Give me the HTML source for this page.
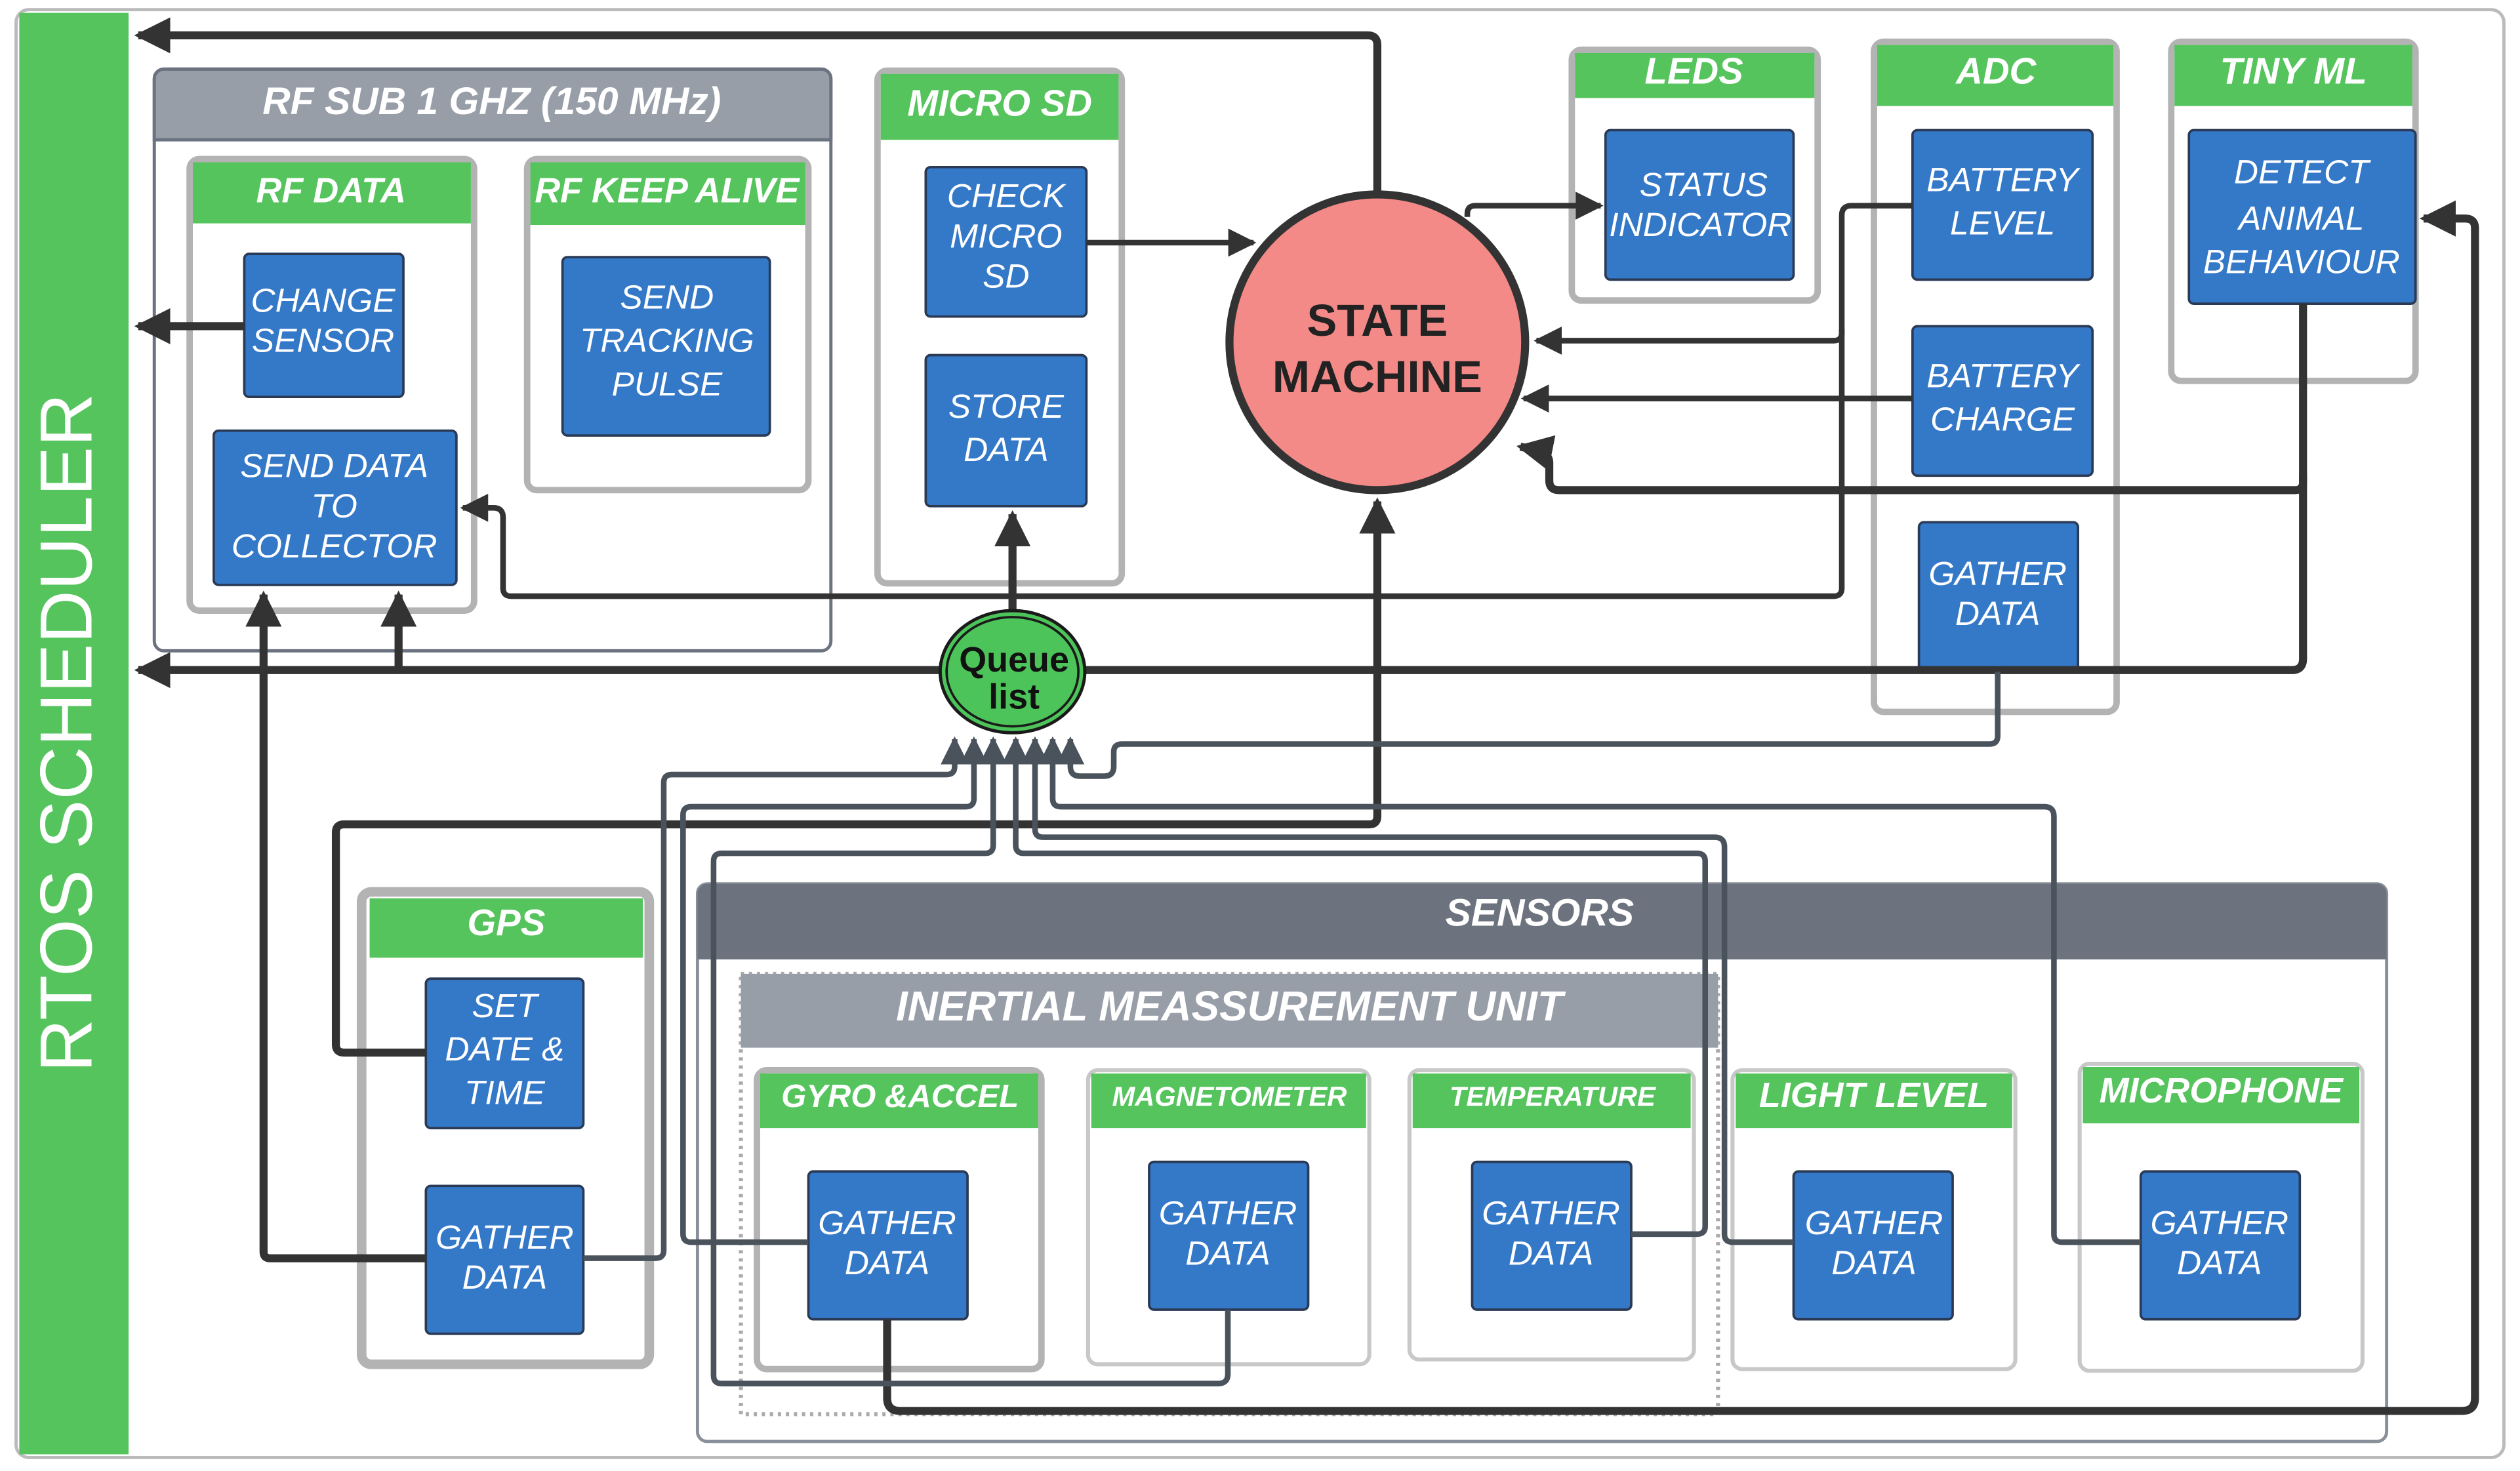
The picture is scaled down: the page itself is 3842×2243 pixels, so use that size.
<!DOCTYPE html>
<html><head><meta charset="utf-8"><style>
html,body{margin:0;padding:0;background:#fff;width:3842px;height:2243px;overflow:hidden}
svg{display:block}
text{font-family:"Liberation Sans",Arial,sans-serif}
.h{fill:#fff;font-weight:bold;font-style:italic;text-anchor:middle}
.b{fill:#fff;font-style:italic;text-anchor:middle;font-size:21px}
.blue{fill:#3478c8;stroke:#2a3a55;stroke-width:1.5}
.grp{fill:#fff;stroke:#b3b3b3;stroke-width:4}
.gh{fill:#55c45d}
.k{fill:none;stroke:#333;stroke-width:5;stroke-linejoin:round}
.k3{fill:none;stroke:#333;stroke-width:3.5;stroke-linejoin:round}
.g{fill:none;stroke:#4a525c;stroke-width:3.5;stroke-linejoin:round}
</style></head><body>
<svg width="3842" height="2243" viewBox="0 0 1568 915.4" preserveAspectRatio="none">
<defs>
<marker id="a" markerWidth="4.5" markerHeight="4.5" refX="4" refY="2.25" orient="auto" markerUnits="strokeWidth"><path d="M0,0 L4.5,2.25 L0,4.5 z" fill="#333"/></marker>
<marker id="a3" markerWidth="5" markerHeight="5" refX="4.5" refY="2.5" orient="auto" markerUnits="strokeWidth"><path d="M0,0 L5,2.5 L0,5 z" fill="#333"/></marker>
<marker id="a2" markerWidth="5" markerHeight="5" refX="4.5" refY="2.5" orient="auto" markerUnits="strokeWidth"><path d="M0,0 L5,2.5 L0,5 z" fill="#4a525c"/></marker>
</defs>
<rect x="10" y="6" width="1548" height="901" rx="8" fill="#fff" stroke="#bbb" stroke-width="2"/>
<rect x="12" y="8" width="68" height="897" fill="#55c45d"/>
<text transform="translate(57,456) rotate(-90)" text-anchor="middle" fill="#fff" font-size="46">RTOS SCHEDULER</text>

<!-- RF SUB group -->
<rect x="96" y="43" width="421" height="362" rx="6" fill="#fff" stroke="#6b7280" stroke-width="2"/>
<path d="M96,87 V49 a6,6 0 0 1 6,-6 H511 a6,6 0 0 1 6,6 V87 z" fill="#989ea8" stroke="#6b7280" stroke-width="2"/>
<text x="306" y="71" class="h" font-size="24">RF SUB 1 GHZ (150 MHz)</text>
<rect x="118" y="99" width="177" height="281" rx="6" class="grp"/>
<rect x="120" y="101" width="173" height="38" class="gh"/>
<text x="206" y="126" class="h" font-size="22">RF DATA</text>
<rect x="328" y="99" width="175" height="206" rx="6" class="grp"/>
<rect x="330" y="101" width="171" height="39" class="gh"/>
<text x="415" y="126" class="h" font-size="22">RF KEEP ALIVE</text>
<rect x="152" y="158" width="99" height="89" rx="3" class="blue"/>
<text x="201" y="194" class="b" font-size="20">CHANGE</text><text x="201" y="219" class="b" font-size="20">SENSOR</text>
<rect x="133" y="268" width="151" height="96" rx="3" class="blue"/>
<text x="208" y="297" class="b" font-size="20">SEND DATA</text><text x="208" y="322" class="b" font-size="20">TO</text><text x="208" y="347" class="b" font-size="20">COLLECTOR</text>
<rect x="350" y="160" width="129" height="111" rx="3" class="blue"/>
<text x="415" y="192" class="b" font-size="22">SEND</text><text x="415" y="219" class="b" font-size="22">TRACKING</text><text x="415" y="246" class="b" font-size="22">PULSE</text>

<!-- MICRO SD -->
<rect x="546" y="44" width="152" height="319" rx="6" class="grp"/>
<rect x="548" y="46" width="148" height="41" class="gh"/>
<text x="622" y="72" class="h" font-size="23">MICRO SD</text>
<rect x="576" y="104" width="100" height="93" rx="3" class="blue"/>
<text x="626" y="129" class="b" font-size="20">CHECK</text><text x="626" y="154" class="b" font-size="20">MICRO</text><text x="626" y="179" class="b" font-size="20">SD</text>
<rect x="576" y="221" width="100" height="94" rx="3" class="blue"/>
<text x="626" y="260" class="b" font-size="21">STORE</text><text x="626" y="287" class="b" font-size="21">DATA</text>

<!-- LEDS -->
<rect x="978" y="31" width="153" height="156" rx="6" class="grp"/>
<rect x="980" y="33" width="149" height="28" class="gh"/>
<text x="1054" y="52" class="h" font-size="23">LEDS</text>
<rect x="999" y="81" width="117" height="93" rx="3" class="blue"/>
<text x="1060" y="122" class="b" font-size="21">STATUS</text><text x="1058" y="147" class="b" font-size="17">INDICATOR</text>

<!-- ADC -->
<rect x="1166" y="26" width="151" height="417" rx="6" class="grp"/>
<rect x="1168" y="28" width="147" height="38" class="gh"/>
<text x="1242" y="52" class="h" font-size="23">ADC</text>
<rect x="1190" y="81" width="112" height="93" rx="3" class="blue"/>
<text x="1246" y="119" class="b" font-size="22">BATTERY</text><text x="1246" y="146" class="b" font-size="22">LEVEL</text>
<rect x="1190" y="203" width="112" height="93" rx="3" class="blue"/>
<text x="1246" y="241" class="b" font-size="22">BATTERY</text><text x="1246" y="268" class="b" font-size="22">CHARGE</text>
<rect x="1194" y="325" width="99" height="93" rx="3" class="blue"/>
<text x="1243" y="364" class="b" font-size="20">GATHER</text><text x="1243" y="389" class="b" font-size="20">DATA</text>

<!-- TINY ML -->
<rect x="1351" y="26" width="152" height="211" rx="6" class="grp"/>
<rect x="1353" y="28" width="148" height="38" class="gh"/>
<text x="1427" y="52" class="h" font-size="23">TINY ML</text>
<rect x="1362" y="81" width="141" height="108" rx="3" class="blue"/>
<text x="1432" y="114" class="b" font-size="23">DETECT</text><text x="1432" y="143" class="b" font-size="23">ANIMAL</text><text x="1432" y="170" class="b" font-size="19">BEHAVIOUR</text>

<!-- GPS -->
<rect x="225" y="555" width="179" height="294" rx="6" fill="#fff" stroke="#b3b3b3" stroke-width="6"/>
<rect x="230" y="559" width="170" height="37" class="gh"/>
<text x="315" y="582" class="h" font-size="23">GPS</text>
<rect x="265" y="609" width="98" height="93" rx="3" class="blue"/>
<text x="314" y="633" class="b" font-size="21">SET</text><text x="314" y="660" class="b" font-size="21">DATE &amp;</text><text x="314" y="687" class="b" font-size="21">TIME</text>
<rect x="265" y="738" width="98" height="92" rx="3" class="blue"/>
<text x="314" y="777" class="b" font-size="20">GATHER</text><text x="314" y="802" class="b" font-size="20">DATA</text>

<!-- SENSORS -->
<rect x="434" y="550" width="1051" height="347" rx="6" fill="#fff" stroke="#8a9099" stroke-width="2"/>
<path d="M434,597 V556 a6,6 0 0 1 6,-6 H1479 a6,6 0 0 1 6,6 V597 z" fill="#6c737e"/>
<text x="958" y="576" class="h" font-size="24">SENSORS</text>
<rect x="461" y="606" width="608" height="274" fill="none" stroke="#aaa" stroke-width="2.5" stroke-dasharray="2,3"/>
<rect x="461" y="606" width="608" height="46" fill="#989ea8"/>
<text x="765" y="635" class="h" font-size="26">INERTIAL MEASSUREMENT UNIT</text>

<rect x="471" y="666" width="177" height="186" rx="6" class="grp"/>
<rect x="473" y="668" width="173" height="34" class="gh"/>
<text x="560" y="689" class="h" font-size="20">GYRO &amp;ACCEL</text>
<rect x="503" y="729" width="99" height="92" rx="3" class="blue"/>
<text x="552" y="768" class="b" font-size="20">GATHER</text><text x="552" y="793" class="b" font-size="20">DATA</text>

<rect x="677" y="666" width="175" height="183" rx="6" fill="#fff" stroke="#c8c8c8" stroke-width="2.5"/>
<rect x="679" y="668" width="171" height="34" class="gh"/>
<text x="765" y="688" class="h" font-size="17">MAGNETOMETER</text>
<rect x="715" y="723" width="99" height="92" rx="3" class="blue"/>
<text x="764" y="762" class="b" font-size="20">GATHER</text><text x="764" y="787" class="b" font-size="20">DATA</text>

<rect x="877" y="666" width="177" height="180" rx="6" fill="#fff" stroke="#c8c8c8" stroke-width="2.5"/>
<rect x="879" y="668" width="173" height="34" class="gh"/>
<text x="966" y="688" class="h" font-size="17">TEMPERATURE</text>
<rect x="916" y="723" width="99" height="92" rx="3" class="blue"/>
<text x="965" y="762" class="b" font-size="20">GATHER</text><text x="965" y="787" class="b" font-size="20">DATA</text>

<rect x="1078" y="666" width="176" height="186" rx="6" fill="#fff" stroke="#c8c8c8" stroke-width="2.5"/>
<rect x="1080" y="668" width="172" height="34" class="gh"/>
<text x="1166" y="689" class="h" font-size="22">LIGHT LEVEL</text>
<rect x="1116" y="729" width="99" height="92" rx="3" class="blue"/>
<text x="1166" y="768" class="b" font-size="20">GATHER</text><text x="1166" y="793" class="b" font-size="20">DATA</text>

<rect x="1294" y="662" width="176" height="191" rx="6" fill="#fff" stroke="#c8c8c8" stroke-width="2.5"/>
<rect x="1296" y="664" width="172" height="35" class="gh"/>
<text x="1382" y="686" class="h" font-size="22">MICROPHONE</text>
<rect x="1332" y="729" width="99" height="92" rx="3" class="blue"/>
<text x="1381" y="768" class="b" font-size="20">GATHER</text><text x="1381" y="793" class="b" font-size="20">DATA</text>

<!-- connectors -->
<path class="k" d="M857,120 V28 q0,-6 -6,-6 H86" marker-end="url(#a)"/>
<path class="k" d="M152,203 H86" marker-end="url(#a)"/>
<path class="k" d="M1433,189 V300 q0,5 -5,5 H970 q-6,0 -6,-6 V288 q0,-6 -8,-8 L946,278" marker-end="url(#a)"/>
<path class="k" d="M1433,295 V410 q0,7 -7,7 H86" marker-end="url(#a)"/>
<path class="k" d="M248,418 V370" marker-end="url(#a)"/>
<path class="k" d="M265,783 H168 q-4,0 -4,-4 V370" marker-end="url(#a)"/>
<path class="k" d="M265,655 H214 q-5,0 -5,-5 V518 q0,-5 5,-5 H852 q5,0 5,-5 V312" marker-end="url(#a)"/>
<path class="k3" d="M676,151 H780" marker-end="url(#a3)"/>
<path class="k" d="M630,380 V320" marker-end="url(#a)"/>
<path class="k3" d="M913,135 V133 q0,-5 5,-5 H996" marker-end="url(#a3)"/>
<path class="k3" d="M1190,128 H1152 q-6,0 -6,6 V207 q0,5 -5,5 H956" marker-end="url(#a3)"/>
<path class="k3" d="M1146,205 V366 q0,5 -5,5 H318 q-5,0 -5,-5 V322 q0,-6 -6,-6 H288" marker-end="url(#a3)"/>
<path class="k3" d="M1190,248 H948" marker-end="url(#a3)"/>
<path class="k" d="M552,821 V870 q0,8 8,8 H1532 q8,0 8,-8 V142 q0,-6 -6,-6 H1508" marker-end="url(#a)"/>

<path class="g" d="M363,783 H408 q5,0 5,-5 V487 q0,-5 5,-5 H589 q5,0 5,-5 V460" marker-end="url(#a2)"/>
<path class="g" d="M503,773 H430 q-5,0 -5,-5 V507 q0,-5 5,-5 H601 q5,0 5,-5 V460" marker-end="url(#a2)"/>
<path class="g" d="M764,815 V855 q0,6 -6,6 H449 q-5,0 -5,-5 V536 q0,-5 5,-5 H613 q5,0 5,-5 V460" marker-end="url(#a2)"/>
<path class="g" d="M1015,768 H1056 q5,0 5,-5 V536 q0,-5 -5,-5 H637 q-5,0 -5,-5 V460" marker-end="url(#a2)"/>
<path class="g" d="M1116,773 H1078 q-5,0 -5,-5 V527 q0,-6 -6,-6 H649 q-5,0 -5,-5 V460" marker-end="url(#a2)"/>
<path class="g" d="M1332,773 H1283 q-5,0 -5,-5 V508 q0,-6 -6,-6 H660 q-5,0 -5,-5 V460" marker-end="url(#a2)"/>
<path class="g" d="M1243,418 V458 q0,5 -5,5 H698 q-5,0 -5,5 V477 q0,6 -6,6 H672 q-6,0 -6,-6 V460" marker-end="url(#a2)"/>

<!-- state machine -->
<circle cx="857" cy="213" r="92" fill="#f48a88" stroke="#333" stroke-width="5"/>
<text x="857" y="209" text-anchor="middle" font-weight="bold" font-size="28" fill="#222">STATE</text>
<text x="857" y="244" text-anchor="middle" font-weight="bold" font-size="28" fill="#222">MACHINE</text>
<!-- queue -->
<ellipse cx="630" cy="418" rx="45" ry="38" fill="#4cc45a" stroke="#1a1a1a" stroke-width="2"/>
<ellipse cx="630" cy="418" rx="41" ry="34" fill="none" stroke="#1a1a1a" stroke-width="1.5"/>
<text x="631" y="418" text-anchor="middle" font-weight="bold" font-size="22" fill="#111">Queue</text>
<text x="631" y="441" text-anchor="middle" font-weight="bold" font-size="22" fill="#111">list</text>
</svg>
</body></html>
